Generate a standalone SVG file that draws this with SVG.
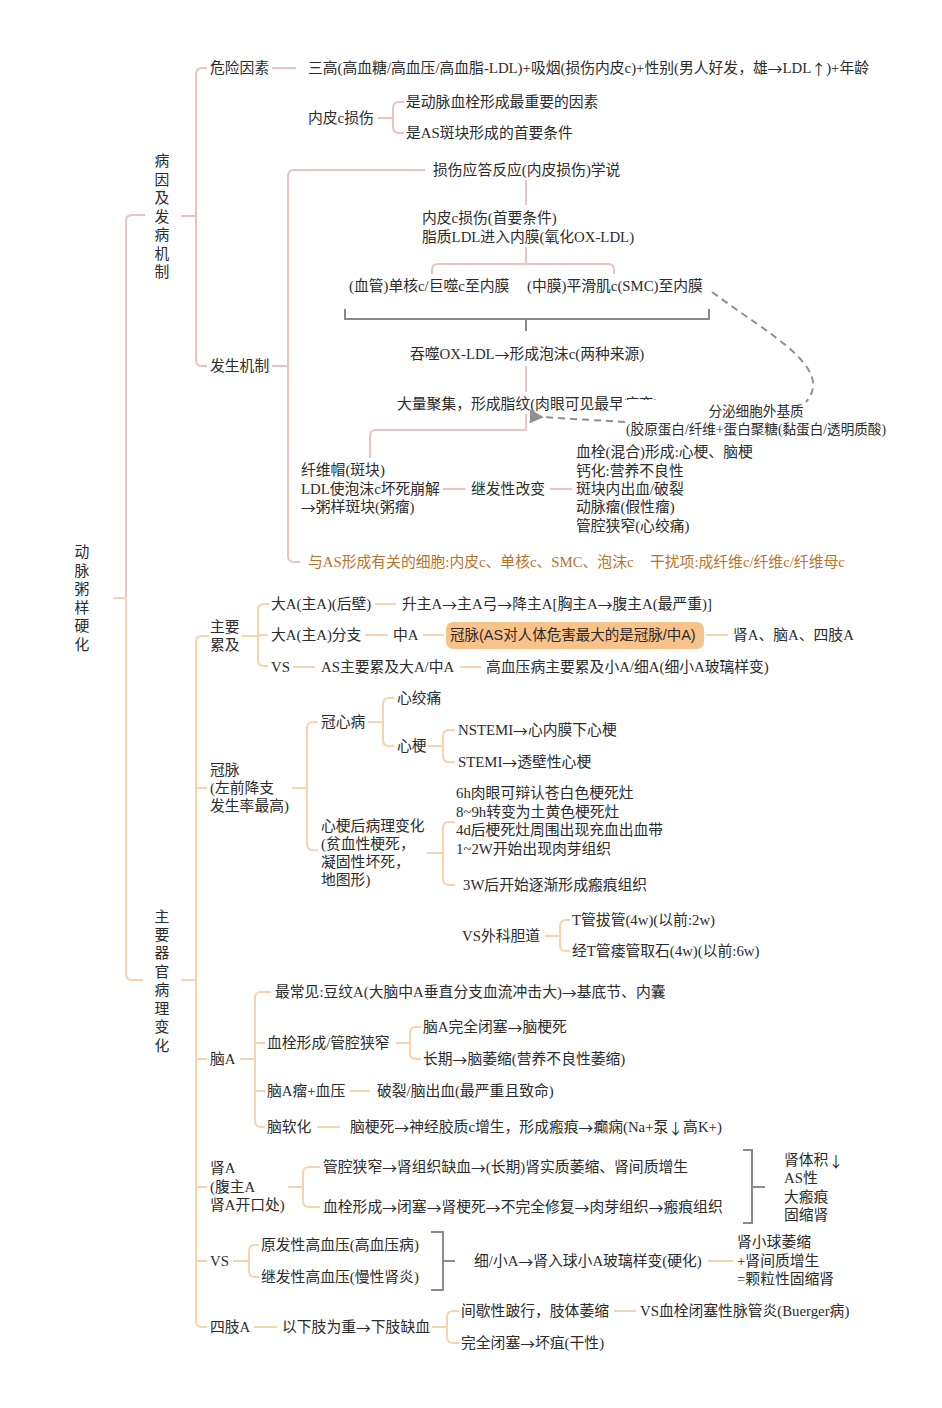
<svg xmlns="http://www.w3.org/2000/svg" width="942" height="1408" viewBox="0 0 942 1408">
<defs>
<style>
text{font-family:"Liberation Serif","Noto Sans CJK SC",serif;font-size:14.8px;fill:#2b2b2b;dominant-baseline:central}
.a{font-family:"Noto Sans CJK SC",sans-serif}
.v{text-anchor:middle}
.br{fill:#b8742a}
.sm{font-size:13.6px}
.bx{font-family:"Liberation Sans","Noto Sans CJK SC",sans-serif;font-size:14.5px}
.p{stroke:#e8c4c2;stroke-width:2;fill:none}
.o{stroke:#f5d4ae;stroke-width:2;fill:none}
.g{stroke:#8a8a8a;stroke-width:2;fill:none}
.d{stroke:#8f8f8f;stroke-width:2;fill:none;stroke-dasharray:7 5}
.box{fill:#f8c38b}
</style>
<marker id="ah" viewBox="0 0 10 10" refX="2" refY="5" markerWidth="7" markerHeight="7" orient="auto">
<path d="M10 0 L0 5 L10 10 Z" fill="#8f8f8f"/>
</marker>
</defs>
<rect width="942" height="1408" fill="#ffffff"/>

<g id="connectors">
<path class="p" d="M126 598 V221 Q126 215 132 215 H145"/>
<path class="o" d="M113 598 H126 V974 Q126 980 132 980 H143"/>
<path class="p" d="M181 216 H196"/>
<path class="p" d="M207 68 H202 Q196 68 196 74 V360 Q196 366 202 366 H207"/>
<path class="p" d="M272 68 H296"/>
<path class="p" d="M378 118 H393"/>
<path class="p" d="M404 102 H399 Q393 102 393 108 V127 Q393 133 399 133 H404"/>
<path class="p" d="M272 366 H288"/>
<path class="p" d="M425 170 H294 Q288 170 288 176 V556 Q288 562 294 562 H300"/>
<path class="p" d="M526 180 V205"/>
<path class="p" d="M526 247 V264"/>
<path class="p" d="M432 274 V270 Q432 264 438 264 H608 Q614 264 614 270 V274"/>
<path class="g" d="M345 309 V319 H709 V309"/>
<path class="g" d="M526 319 V331"/>
<path class="p" d="M526 366 V392"/>
<path class="p" d="M443 489 H465"/>
<path class="p" d="M550 489 H572"/>

<path class="o" d="M181 980 H196"/>
<path class="o" d="M209 636 H202 Q196 636 196 642 V1321 Q196 1327 202 1327 H207"/>
<path class="o" d="M196 788 H207 M196 1059 H207 M196 1187 H207 M196 1261 H207"/>
<path class="o" d="M242 636 H258"/>
<path class="o" d="M269 604 H264 Q258 604 258 610 V660 Q258 666 264 666 H268 M258 635 H268"/>
<path class="o" d="M375 604 H396 M365 635 H388 M423 635 H444 M706 635 H728 M293 667 H315 M460 667 H481"/>
<path class="o" d="M292 788 H307 M318 722 H313 Q307 722 307 728 V844 Q307 850 313 850 H318"/>
<path class="o" d="M368 722 H383 M394 698 H389 Q383 698 383 704 V740 Q383 746 389 746 H394"/>
<path class="o" d="M428 746 H443 M455 730 H449 Q443 730 443 736 V756 Q443 762 449 762 H455"/>
<path class="o" d="M427 853 H443 M455 822 H449 Q443 822 443 828 V879 Q443 885 449 885 H455"/>
<path class="o" d="M545 936 H560 M570 920 H566 Q560 920 560 926 V945 Q560 951 566 951 H570"/>
<path class="o" d="M240 1059 H255 M271 992 H261 Q255 992 255 998 V1121 Q255 1127 261 1127 H265 M255 1043 H265 M255 1091 H265"/>
<path class="o" d="M396 1043 H410 M421 1027 H416 Q410 1027 410 1033 V1053 Q410 1059 416 1059 H421"/>
<path class="o" d="M350 1091 H370 M317 1127 H340"/>
<path class="o" d="M288 1187 H303 M320 1167 H309 Q303 1167 303 1173 V1201 Q303 1207 309 1207 H320"/>
<path class="g" d="M743 1150 H752 V1223 H743 M752 1187 H765"/>
<path class="o" d="M233 1261 H249 M259 1245 H255 Q249 1245 249 1251 V1271 Q249 1277 255 1277 H259"/>
<path class="g" d="M431 1232 H443 V1290 H431 M443 1261 H455"/>
<path class="o" d="M708 1261 H733"/>
<path class="o" d="M254 1327 H277 M432 1327 H447 M459 1311 H453 Q447 1311 447 1317 V1337 Q447 1343 453 1343 H459 M614 1311 H636"/>
</g>

<g id="root"><text class="v" x="82"><tspan x="82" y="552">动</tspan><tspan x="82" y="571">脉</tspan><tspan x="82" y="589">粥</tspan><tspan x="82" y="608">样</tspan><tspan x="82" y="626">硬</tspan><tspan x="82" y="645">化</tspan></text></g>
<g id="n-bingyin"><text class="v"><tspan x="162" y="161">病</tspan><tspan x="162" y="180">因</tspan><tspan x="162" y="198">及</tspan><tspan x="162" y="217">发</tspan><tspan x="162" y="235">病</tspan><tspan x="162" y="254">机</tspan><tspan x="162" y="272">制</tspan></text></g>
<g id="n-weixian"><text x="210" y="68">危险因素</text></g>
<g id="n-sangao"><text x="308" y="68">三高(高血糖/高血压/高血脂-LDL)+吸烟(损伤内皮c)+性别(男人好发，雄<tspan class="a">→</tspan>LDL<tspan class="a">↑</tspan>)+年龄</text></g>
<g id="n-neipi"><text x="308" y="118">内皮c损伤</text></g>
<g id="n-neipi-1"><text x="406" y="102">是动脉血栓形成最重要的因素</text></g>
<g id="n-neipi-2"><text x="406" y="133">是AS斑块形成的首要条件</text></g>
<g id="n-fasheng"><text x="210" y="366">发生机制</text></g>
<g id="n-sunshang"><text x="433" y="170">损伤应答反应(内皮损伤)学说</text></g>
<g id="n-neipi2"><text x="422" y="218">内皮c损伤(首要条件)</text><text x="422" y="237">脂质LDL进入内膜(氧化OX-LDL)</text></g>
<g id="n-danhe"><text x="349" y="286">(血管)单核c/巨噬c至内膜</text></g>
<g id="n-smc"><text x="527" y="286">(中膜)平滑肌c(SMC)至内膜</text></g>
<g id="n-tunshi"><text x="410" y="354">吞噬OX-LDL<tspan class="a">→</tspan>形成泡沫c(两种来源)</text></g>
<g id="n-zhiwen"><text x="397" y="404">大量聚集，形成脂纹(肉眼可见最早病变)</text></g>
<g id="n-fenmi"><rect x="622" y="400" width="268" height="40" fill="#ffffff"/><text x="756" y="411" class="v sm">分泌细胞外基质</text><text x="756" y="429" class="v sm">(胶原蛋白/纤维+蛋白聚糖(黏蛋白/透明质酸)</text></g>
<g id="dashed"><path class="d" d="M712 292 C770 335 835 368 806 402"/><path class="d" d="M625 422 L541 417" marker-end="url(#ah)"/></g>
<path class="p" d="M526 414 V430 H376 Q370 430 370 436 V458"/>
<g id="n-xianwei"><text x="301" y="470">纤维帽(斑块)</text><text x="301" y="489">LDL使泡沫c坏死崩解</text><text x="301" y="507"><tspan class="a">→</tspan>粥样斑块(粥瘤)</text></g>
<g id="n-jifa"><text x="471" y="489">继发性改变</text></g>
<g id="n-jifa-list"><text x="576" y="452">血栓(混合)形成:心梗、脑梗</text><text x="576" y="471">钙化:营养不良性</text><text x="576" y="489">斑块内出血/破裂</text><text x="576" y="507">动脉瘤(假性瘤)</text><text x="576" y="526">管腔狭窄(心绞痛)</text></g>
<g id="n-xibao"><text class="br" x="308" y="562">与AS形成有关的细胞:内皮c、单核c、SMC、泡沫c</text><text class="br" x="650" y="562">干扰项:成纤维c/纤维c/纤维母c</text></g>

<g id="n-zhuyao"><text class="v"><tspan x="162" y="917">主</tspan><tspan x="162" y="935">要</tspan><tspan x="162" y="953">器</tspan><tspan x="162" y="972">官</tspan><tspan x="162" y="990">病</tspan><tspan x="162" y="1009">理</tspan><tspan x="162" y="1027">变</tspan><tspan x="162" y="1046">化</tspan></text></g>
<g id="n-leiji"><text x="210" y="627">主要</text><text x="210" y="645">累及</text></g>
<g id="n-houbi"><text x="271" y="604">大A(主A)(后壁)</text></g>
<g id="n-shengzhu"><text x="402" y="604">升主A<tspan class="a">→</tspan>主A弓<tspan class="a">→</tspan>降主A[胸主A<tspan class="a">→</tspan>腹主A(最严重)]</text></g>
<g id="n-fenzhi"><text x="271" y="635">大A(主A)分支</text></g>
<g id="n-zhongA"><text x="393" y="635">中A</text></g>
<g id="n-guanmai-box"><rect class="box" x="446" y="622" width="258" height="27" rx="7"/><text class="bx" x="450" y="635">冠脉(AS对人体危害最大的是冠脉/中A)</text></g>
<g id="n-shenA1"><text x="733" y="635">肾A、脑A、四肢A</text></g>
<g id="n-vs1"><text x="271" y="667">VS</text></g>
<g id="n-as"><text x="321" y="667">AS主要累及大A/中A</text></g>
<g id="n-gaoxueya"><text x="486" y="667">高血压病主要累及小A/细A(细小A玻璃样变)</text></g>
<g id="n-guanmai"><text x="210" y="770">冠脉</text><text x="210" y="788">(左前降支</text><text x="210" y="806">发生率最高)</text></g>
<g id="n-guanxin"><text x="321" y="722">冠心病</text></g>
<g id="n-xinjiao"><text x="397" y="698">心绞痛</text></g>
<g id="n-xingeng"><text x="397" y="746">心梗</text></g>
<g id="n-nstemi"><text x="458" y="730">NSTEMI<tspan class="a">→</tspan>心内膜下心梗</text></g>
<g id="n-stemi"><text x="458" y="762">STEMI<tspan class="a">→</tspan>透壁性心梗</text></g>
<g id="n-binglibh"><text x="321" y="826">心梗后病理变化</text><text x="321" y="844">(贫血性梗死，</text><text x="321" y="862">凝固性坏死，</text><text x="321" y="880">地图形)</text></g>
<g id="n-shijian"><text x="456" y="793">6h肉眼可辩认苍白色梗死灶</text><text x="456" y="812">8~9h转变为土黄色梗死灶</text><text x="456" y="830">4d后梗死灶周围出现充血出血带</text><text x="456" y="849">1~2W开始出现肉芽组织</text></g>
<g id="n-3w"><text x="463" y="885">3W后开始逐渐形成瘢痕组织</text></g>
<g id="n-dandao"><text x="462" y="936">VS外科胆道</text></g>
<g id="n-tguan"><text x="572" y="920">T管拔管(4w)(以前:2w)</text></g>
<g id="n-qushi"><text x="572" y="951">经T管瘘管取石(4w)(以前:6w)</text></g>
<g id="n-naoA"><text x="210" y="1059">脑A</text></g>
<g id="n-zuichang"><text x="275" y="992">最常见:豆纹A(大脑中A垂直分支血流冲击大)<tspan class="a">→</tspan>基底节、内囊</text></g>
<g id="n-xueshuan"><text x="267" y="1043">血栓形成/管腔狭窄</text></g>
<g id="n-naogeng"><text x="423" y="1027">脑A完全闭塞<tspan class="a">→</tspan>脑梗死</text></g>
<g id="n-naowei"><text x="423" y="1059">长期<tspan class="a">→</tspan>脑萎缩(营养不良性萎缩)</text></g>
<g id="n-naoliu"><text x="267" y="1091">脑A瘤+血压</text></g>
<g id="n-polie"><text x="377" y="1091">破裂/脑出血(最严重且致命)</text></g>
<g id="n-ruanhua"><text x="267" y="1127">脑软化</text></g>
<g id="n-dianxian"><text x="350" y="1127">脑梗死<tspan class="a">→</tspan>神经胶质c增生，形成瘢痕<tspan class="a">→</tspan>癫痫(Na+泵<tspan class="a">↓</tspan>高K+)</text></g>
<g id="n-shenA"><text x="210" y="1168">肾A</text><text x="210" y="1187">(腹主A</text><text x="210" y="1205">肾A开口处)</text></g>
<g id="n-xiazhai"><text x="323" y="1167">管腔狭窄<tspan class="a">→</tspan>肾组织缺血<tspan class="a">→</tspan>(长期)肾实质萎缩、肾间质增生</text></g>
<g id="n-shengeng"><text x="323" y="1207">血栓形成<tspan class="a">→</tspan>闭塞<tspan class="a">→</tspan>肾梗死<tspan class="a">→</tspan>不完全修复<tspan class="a">→</tspan>肉芽组织<tspan class="a">→</tspan>瘢痕组织</text></g>
<g id="n-gusuo"><text x="784" y="1160">肾体积<tspan class="a">↓</tspan></text><text x="784" y="1178">AS性</text><text x="784" y="1197">大瘢痕</text><text x="784" y="1215">固缩肾</text></g>
<g id="n-vs2"><text x="210" y="1261">VS</text></g>
<g id="n-yuanfa"><text x="261" y="1245">原发性高血压(高血压病)</text></g>
<g id="n-jifaxy"><text x="261" y="1277">继发性高血压(慢性肾炎)</text></g>
<g id="n-xiaoA"><text x="474" y="1261">细/小A<tspan class="a">→</tspan>肾入球小A玻璃样变(硬化)</text></g>
<g id="n-keli"><text x="737" y="1242">肾小球萎缩</text><text x="737" y="1261">+肾间质增生</text><text x="737" y="1279">=颗粒性固缩肾</text></g>
<g id="n-sizhi"><text x="210" y="1327">四肢A</text></g>
<g id="n-xiazhi"><text x="282" y="1327">以下肢为重<tspan class="a">→</tspan>下肢缺血</text></g>
<g id="n-jianxie"><text x="461" y="1311">间歇性跛行，肢体萎缩</text></g>
<g id="n-buerger"><text x="640" y="1311">VS血栓闭塞性脉管炎(Buerger病)</text></g>
<g id="n-huaiju"><text x="461" y="1343">完全闭塞<tspan class="a">→</tspan>坏疽(干性)</text></g>
</svg>
